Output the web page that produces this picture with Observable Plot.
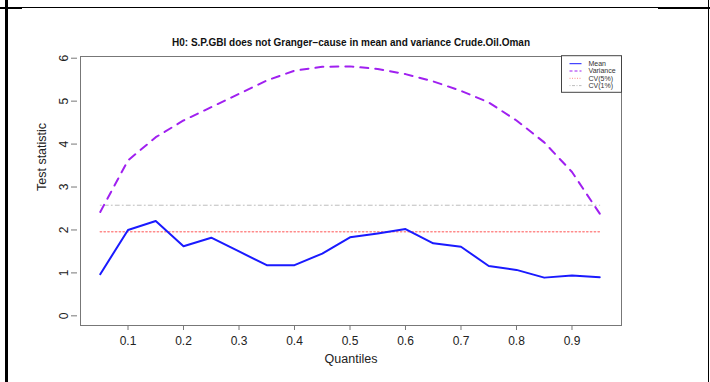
<!DOCTYPE html>
<html>
<head>
<meta charset="utf-8">
<script src="https://cdn.jsdelivr.net/npm/d3@7"></script>
<script src="https://cdn.jsdelivr.net/npm/@observablehq/plot@0.6"></script>
<style>
  html, body { margin: 0; padding: 0; background: #fff; }
  #wrap { position: relative; width: 710px; height: 382px; overflow: hidden; font-family: "Liberation Sans", Arial, sans-serif; }
  .bd { position: absolute; background: #000; }
</style>
</head>
<body>
<div id="wrap">
  <div id="chart"></div>
  <div class="bd" style="left:5px;top:0;width:3px;height:382px;"></div>
  <div class="bd" style="left:0;top:7px;width:22px;height:2px;"></div>
  <div class="bd" style="left:22px;top:7px;width:636px;height:1px;"></div>
  <div class="bd" style="left:658px;top:7px;width:52px;height:2px;"></div>
  <div class="bd" style="left:708px;top:0;width:1px;height:382px;"></div>
</div>
<script>
const title = "H0: S.P.GBI does not Granger\u2212cause in mean and variance Crude.Oil.Oman";
const quantiles = [0.05,0.10,0.15,0.20,0.25,0.30,0.35,0.40,0.45,0.50,0.55,0.60,0.65,0.70,0.75,0.80,0.85,0.90,0.95];
const meanStat = [0.97,2.00,2.21,1.62,1.82,1.50,1.18,1.18,1.45,1.83,1.92,2.02,1.69,1.61,1.16,1.07,0.89,0.94,0.90];
const varStat  = [2.42,3.62,4.16,4.55,4.86,5.17,5.48,5.71,5.80,5.81,5.75,5.63,5.46,5.24,4.97,4.55,4.04,3.35,2.38];
const cv5 = 1.96;
const cv1 = 2.576;
const xTicks = [0.1,0.2,0.3,0.4,0.5,0.6,0.7,0.8,0.9];
const yTicks = [0,1,2,3,4,5,6];
const legendLabels = ["Mean","Variance","CV(5%)","CV(1%)"];

const meanData = quantiles.map((q,i)=>({q, v: meanStat[i]}));
const varData = quantiles.map((q,i)=>({q, v: varStat[i]}));
const cv5Data = quantiles.map(q=>({q, v: cv5}));
const cv1Data = quantiles.map(q=>({q, v: cv1}));

const W = 710, H = 382;
const mL = 80, mR = 89, mT = 56, mB = 57;
const font = "Liberation Sans, Arial, sans-serif";

const chart = Plot.plot({
  width: W, height: H,
  marginLeft: mL, marginRight: mR, marginTop: mT, marginBottom: mB,
  style: {fontFamily: font, background: "#fff", overflow: "visible"},
  x: {domain: [0.0144, 0.9892]},
  y: {domain: [-0.225, 6.04]},
  marks: [
    Plot.frame({stroke: "#777", strokeWidth: 1}),
    Plot.axisX({ticks: xTicks, tickSize: 5, tickPadding: 6, tickFormat: d3.format(".1f"), fontSize: 12, color: "#222", stroke: "#777", label: null}),
    Plot.axisY({ticks: yTicks, tickSize: 6, tickPadding: 4, tickRotate: -90, tickFormat: d3.format("d"), fontSize: 12, color: "#222", stroke: "#777", label: null, textAnchor: "middle", dx: -3}),
    Plot.line(cv1Data, {x: "q", y: "v", stroke: "#bdbdbd", strokeWidth: 1, strokeDasharray: "1,3,4,3"}),
    Plot.line(cv5Data, {x: "q", y: "v", stroke: "#ff8a8a", strokeWidth: 1.5, strokeDasharray: "1.3,2.5"}),
    Plot.line(varData, {x: "q", y: "v", stroke: "#a020f0", strokeWidth: 2, strokeDasharray: "8,7", curve: "linear"}),
    Plot.line(meanData, {x: "q", y: "v", stroke: "#1a1aff", strokeWidth: 2, curve: "linear"}),
    Plot.text([title], {frameAnchor: "top", dy: -18, text: d => d, fontSize: 10, fontWeight: "bold", fill: "#111"}),
    Plot.text(["Quantiles"], {frameAnchor: "bottom", dy: 37, text: d => d, fontSize: 12.5, fill: "#222"}),
    Plot.text(["Test statistic"], {frameAnchor: "left", dx: -39, rotate: -90, text: d => d, fontSize: 12.5, fill: "#222"})
  ]
});
document.getElementById("chart").appendChild(chart);

// legend (top-right inside plot frame)
const svg = d3.select(chart);
const lx = 561.5, ly = 55.7, lw = 60, lh = 36.6;
const lg = svg.append("g").attr("font-family", font).attr("text-anchor", "start");
lg.append("rect").attr("x", lx).attr("y", ly).attr("width", lw).attr("height", lh)
  .attr("fill", "#fff").attr("stroke", "#444").attr("stroke-width", 1);
const styles = [
  {stroke: "#1a1aff", w: 1, dash: null},
  {stroke: "#a020f0", w: 1, dash: "3,2"},
  {stroke: "#ff8a8a", w: 1, dash: "1,1.5"},
  {stroke: "#bdbdbd", w: 1, dash: "1,1.5,3,1.5"}
];
legendLabels.forEach((lab, i) => {
  const yy = ly + 8 + i * 7.3;
  lg.append("line").attr("x1", lx + 8).attr("x2", lx + 20).attr("y1", yy).attr("y2", yy)
    .attr("stroke", styles[i].stroke).attr("stroke-width", styles[i].w)
    .attr("stroke-dasharray", styles[i].dash);
  lg.append("text").attr("x", lx + 27).attr("y", yy).attr("dy", "0.35em")
    .attr("font-size", 7).attr("fill", "#333").attr("text-anchor", "start").text(lab);
});
</script>
</body>
</html>
